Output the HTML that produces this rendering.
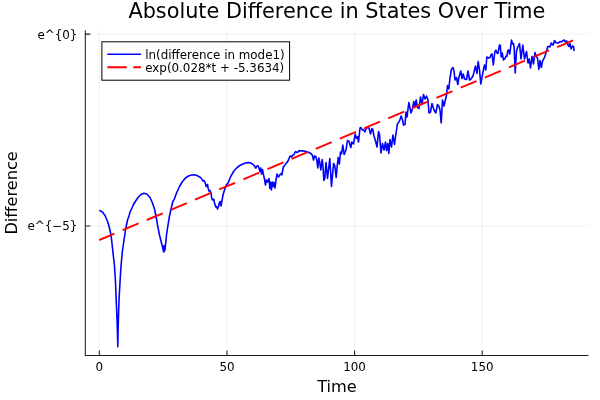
<!DOCTYPE html>
<html><head><meta charset="utf-8"><title>Absolute Difference in States Over Time</title>
<style>
html,body{margin:0;padding:0;background:#fff;}
svg{display:block;}
text{font-family:"DejaVu Sans","Liberation Sans",sans-serif;fill:#000;}
.tk{font-size:11.9px;}
.gd{font-size:16.2px;}
.tt{font-size:20.8px;}
</style></head>
<body>
<svg width="600" height="400" viewBox="0 0 600 400">
<rect width="600" height="400" fill="#fff"/>
<g stroke="#000" stroke-opacity="0.08" stroke-width="0.8" fill="none">
<path d="M99.3,30.4V355.4M227,30.4V355.4M354.6,30.4V355.4M482.2,30.4V355.4M85.3,34.1H588.4M85.3,226H588.4"/>
</g>
<g stroke="#1c1c1c" stroke-width="1.05" fill="none">
<path d="M85.3,30.3V355.9M84.8,355.4H588.5"/>
<path d="M99.3,355.4V350.4M227,355.4V350.4M354.6,355.4V350.4M482.2,355.4V350.4M85.3,34.1H90.3M85.3,226H90.3"/>
</g>
<text class="tt" x="336.9" y="18" text-anchor="middle">Absolute Difference in States Over Time</text>
<text class="gd" x="337" y="391.6" text-anchor="middle">Time</text>
<text class="gd" transform="translate(17,192.9) rotate(-90)" text-anchor="middle">Difference</text>
<text class="tk" x="99.3" y="371.45" text-anchor="middle">0</text>
<text class="tk" x="227" y="371.45" text-anchor="middle">50</text>
<text class="tk" x="354.6" y="371.45" text-anchor="middle">100</text>
<text class="tk" x="482.2" y="371.45" text-anchor="middle">150</text>
<text class="tk" x="77.4" y="38.6" text-anchor="end">e^{0}</text>
<text class="tk" x="77.4" y="230.4" text-anchor="end">e^{−5}</text>
<path d="M99.3,210.4 L101.0,211.2 L103.0,212.7 L105.0,215.5 L107.0,220.0 L109.0,226.0 L110.5,232.5 L111.3,237.5 L112.5,248.0 L113.6,258.0 L114.4,265.0 L115.5,282.0 L116.2,300.0 L116.9,316.0 L117.4,330.0 L117.8,346.8 L118.1,330.0 L118.5,316.0 L119.0,300.0 L120.0,282.0 L121.1,265.0 L122.3,252.0 L124.0,240.0 L125.5,230.0 L126.5,225.0 L127.5,220.0 L129.0,216.0 L130.0,212.0 L132.0,208.0 L133.0,205.5 L135.0,202.0 L138.0,197.5 L141.0,194.5 L144.0,193.3 L147.0,194.2 L150.0,197.5 L152.5,203.0 L154.5,209.0 L156.0,216.0 L157.5,225.0 L159.5,235.0 L161.5,243.0 L162.5,247.0 L163.7,252.0 L164.0,245.5 L164.4,251.0 L165.0,250.0 L165.5,245.0 L166.5,235.0 L168.0,225.0 L169.5,216.0 L171.0,209.0 L173.0,201.0 L174.0,200.0 L176.5,193.0 L179.5,186.5 L182.5,181.5 L185.5,178.0 L188.5,176.0 L191.5,175.0 L194.5,174.8 L197.0,175.5 L200.0,177.2 L201.5,178.5 L202.8,181.0 L204.2,180.5 L205.0,182.5 L206.2,186.5 L207.5,184.5 L208.2,188.5 L209.0,191.0 L210.0,190.5 L211.0,193.0 L211.8,198.5 L212.5,200.0 L213.7,199.0 L214.5,203.0 L215.8,207.0 L216.5,206.5 L217.5,209.0 L218.5,206.5 L219.5,202.5 L220.3,201.5 L221.0,206.0 L221.8,201.5 L223.0,195.0 L224.5,190.0 L226.5,184.5 L227.6,184.0 L230.7,176.5 L233.9,171.0 L237.2,167.5 L240.3,165.2 L243.3,163.8 L245.8,163.0 L248.0,162.6 L250.0,162.8 L252.5,164.0 L254.5,166.0 L255.8,168.2 L256.8,166.2 L258.0,165.8 L259.0,168.0 L260.0,171.5 L260.8,168.0 L261.5,174.0 L262.5,169.5 L263.5,175.0 L264.5,179.0 L265.5,185.0 L266.5,180.0 L267.8,182.0 L269.0,178.5 L269.9,188.5 L270.6,182.0 L271.4,190.0 L272.4,182.0 L273.3,186.5 L274.0,182.5 L275.0,188.0 L276.0,180.0 L277.0,174.0 L278.5,177.0 L280.0,174.5 L281.2,173.5 L281.8,175.0 L282.8,170.0 L283.5,166.5 L284.5,166.0 L285.5,164.0 L287.0,162.5 L288.5,160.0 L289.8,156.5 L290.8,156.0 L291.5,157.0 L292.5,155.5 L294.0,154.5 L295.0,152.5 L295.8,151.5 L296.8,152.5 L298.0,152.0 L299.2,150.5 L300.0,151.0 L303.0,150.8 L306.0,151.5 L309.0,152.5 L311.5,154.0 L312.5,155.5 L313.5,160.0 L314.5,156.0 L315.8,156.5 L316.8,160.0 L317.8,168.0 L318.8,158.0 L319.8,163.0 L320.8,170.0 L322.2,159.5 L323.0,166.0 L323.8,180.5 L324.8,178.5 L326.0,162.5 L327.5,178.5 L329.8,158.5 L331.5,186.5 L333.6,163.2 L334.8,166.0 L336.2,177.5 L337.2,166.0 L338.2,157.5 L339.4,164.0 L340.5,152.0 L341.6,153.8 L342.8,145.0 L344.2,154.5 L346.0,150.0 L347.5,140.5 L349.0,141.5 L350.8,147.5 L351.8,142.0 L353.5,144.0 L355.2,134.0 L356.5,138.5 L357.5,136.5 L358.5,142.0 L360.0,128.0 L361.0,127.5 L362.2,130.0 L363.5,129.5 L364.8,132.0 L366.2,128.5 L367.5,127.5 L369.0,128.0 L370.5,134.0 L372.0,128.5 L372.8,129.5 L374.0,136.0 L375.5,141.0 L377.0,147.0 L378.5,131.5 L379.5,134.5 L381.0,153.0 L382.5,143.5 L384.0,150.0 L385.5,142.0 L386.5,150.5 L387.8,143.5 L388.8,153.5 L390.0,139.5 L391.5,147.0 L393.0,135.0 L394.5,144.5 L396.0,133.5 L397.5,123.5 L399.0,122.0 L400.0,119.5 L401.2,116.0 L402.5,120.0 L403.5,125.0 L405.0,124.5 L406.0,112.0 L407.0,117.0 L408.8,102.5 L409.8,107.0 L411.0,113.0 L412.5,108.5 L413.8,101.5 L415.0,106.5 L416.2,100.0 L417.5,107.5 L419.0,108.5 L420.5,97.0 L422.0,104.5 L423.5,94.5 L425.0,99.0 L426.5,96.0 L428.0,100.0 L429.0,113.0 L430.5,112.0 L432.0,103.5 L434.0,110.0 L435.8,113.0 L437.5,104.5 L439.0,106.5 L440.0,110.0 L441.2,123.0 L442.5,100.0 L444.0,106.0 L445.5,99.5 L446.5,95.0 L447.5,85.5 L448.8,89.0 L450.0,78.0 L451.5,69.0 L453.0,67.5 L454.0,71.0 L455.0,80.0 L456.5,77.5 L457.8,84.5 L459.0,77.0 L460.8,71.0 L462.0,78.5 L463.2,74.0 L464.5,79.0 L466.5,79.5 L468.0,71.0 L469.5,80.0 L471.0,79.0 L473.0,76.0 L474.5,70.0 L475.5,66.0 L477.0,73.5 L478.2,61.5 L479.5,70.0 L480.8,84.0 L482.0,77.0 L483.0,72.0 L484.5,65.0 L485.8,70.0 L486.8,57.0 L488.5,58.0 L490.0,57.5 L491.2,54.5 L492.0,54.0 L493.3,65.0 L494.8,52.0 L495.8,50.0 L497.0,53.0 L498.0,53.5 L499.5,45.0 L500.3,45.5 L501.2,57.0 L502.2,53.0 L503.5,60.0 L505.0,58.5 L506.0,56.0 L506.8,56.5 L508.0,50.5 L508.8,50.0 L509.8,54.0 L511.5,40.0 L512.5,44.0 L513.5,43.5 L514.2,48.0 L515.2,73.0 L516.5,51.0 L517.8,47.0 L519.5,43.5 L521.0,59.0 L522.8,45.0 L524.5,59.0 L526.5,51.5 L528.0,63.0 L529.2,59.0 L530.5,68.0 L532.0,56.5 L533.5,64.0 L535.0,52.5 L536.2,56.5 L537.5,58.0 L538.8,69.5 L540.0,60.5 L541.3,67.5 L542.7,60.5 L543.5,59.5 L545.0,56.0 L546.5,51.0 L547.8,46.5 L549.0,46.5 L550.0,47.0 L551.2,43.0 L552.5,44.5 L553.2,45.0 L554.5,40.5 L555.8,42.5 L557.0,43.0 L558.5,43.0 L560.0,41.5 L561.5,42.0 L562.5,41.0 L564.0,40.0 L565.5,42.0 L566.8,41.0 L568.0,45.0 L569.0,46.5 L570.0,43.5 L571.2,49.0 L572.5,46.0 L573.5,46.5 L574.2,51.0" fill="none" stroke="#0000ff" stroke-width="1.6" stroke-linejoin="round" stroke-linecap="butt"/>
<path d="M99.3,240.0L574.6,39.7" fill="none" stroke="#ff0000" stroke-width="1.9" stroke-dasharray="17.3 8.9" stroke-dashoffset="0.9"/>
<rect x="101.9" y="41.8" width="187.7" height="38.4" fill="#fff" stroke="#000" stroke-width="1"/>
<path d="M107.3,54.3H141" stroke="#0000ff" stroke-width="1.6" fill="none"/>
<path d="M107.3,67.3H141" stroke="#ff0000" stroke-width="1.9" stroke-dasharray="19.4 6.6" fill="none"/>
<text class="tk" x="145.2" y="58.8">ln(difference in mode1)</text>
<text class="tk" x="145.2" y="71.8">exp(0.028*t + -5.3634)</text>
</svg>
</body></html>
